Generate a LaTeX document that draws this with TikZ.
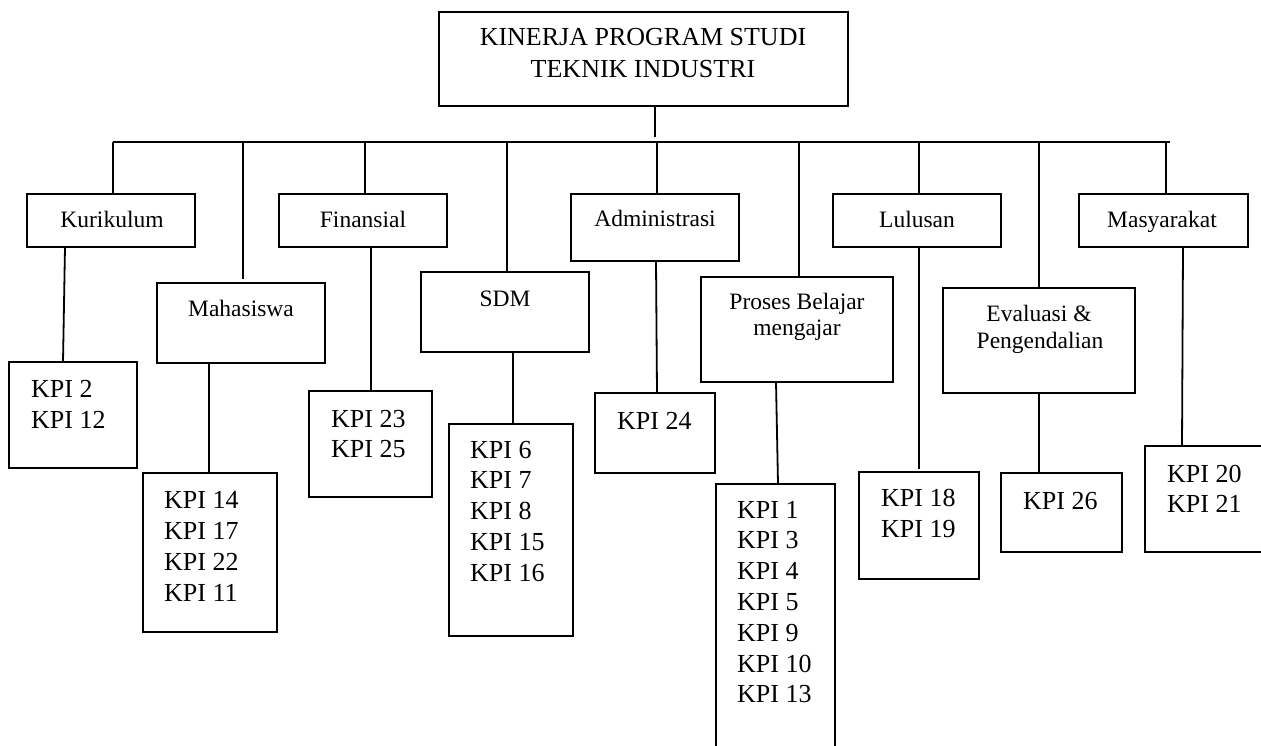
\documentclass[tikz,border=0pt]{standalone}
\usepackage{fontspec}
\setmainfont{Liberation Serif}
\tikzset{
  box/.style={draw, line width=1.8pt, inner sep=0pt, outer sep=0pt, anchor=north west},
  conn/.style={line width=1.8pt},
  lbl/.style={font=\fontsize{23.5}{26}\selectfont, anchor=base, inner sep=0pt},
  kpi/.style={font=\fontsize{26}{31}\selectfont, anchor=base west, inner sep=0pt},
  ttl/.style={font=\fontsize{26}{32}\selectfont, anchor=base, inner sep=0pt}
}
\newcommand\mkbox[5]{\node[box, minimum width={(#4-#2)*1pt}, minimum height={(#5-#3)*1pt}] (#1) at (#2,#3) {};}
\newcommand\kpilist[5]{\foreach \t [count=\i] in {#5} {\node[kpi] (#1-\i) at (#2,{#3+#4*(\i-1)}) {\t};}}
\begin{document}
\begin{tikzpicture}[x=1pt,y=-1pt]
\useasboundingbox (0,0) rectangle (1261,746);
\clip (0,0) rectangle (1261,746);
% boxes
\mkbox{top}{439}{12}{848}{106}
\mkbox{kur}{27}{194}{195}{247}
\mkbox{mhs}{157}{283}{325}{363}
\mkbox{fin}{279}{194}{447}{247}
\mkbox{sdm}{421}{272}{589}{352}
\mkbox{adm}{571}{194}{739}{261}
\mkbox{pbm}{701}{277}{893}{382}
\mkbox{lul}{833}{194}{1001}{247}
\mkbox{eva}{943}{288}{1135}{393}
\mkbox{mas}{1079}{194}{1248}{247}
\mkbox{kA}{9}{362}{137}{468}
\mkbox{kB}{143}{473}{277}{632}
\mkbox{kC}{309}{391}{432}{497}
\mkbox{kD}{449}{424}{573}{636}
\mkbox{kE}{595}{393}{715}{473}
\mkbox{kF}{716}{484}{835}{770}
\mkbox{kG}{859}{472}{979}{579}
\mkbox{kH}{1001}{473}{1122}{552}
\mkbox{kI}{1145}{446}{1290}{552}
% title
\node[ttl] (t1) at (643,46) {KINERJA PROGRAM STUDI};
\node[ttl] (t2) at (643,78) {TEKNIK INDUSTRI};
% level-1 labels
\node[lbl] (lkur) at (112,228) {Kurikulum};
\node[lbl] (lfin) at (363,228) {Finansial};
\node[lbl] (llul) at (917,228) {Lulusan};
\node[lbl] (lmas) at (1162,228) {Masyarakat};
\node[lbl] (ladm) at (655,227) {Administrasi};
\node[lbl] (lmhs) at (241,316) {Mahasiswa};
\node[lbl] (lsdm) at (505,306) {SDM};
\node[lbl] (lpbm1) at (797,309) {Proses Belajar};
\node[lbl] (lpbm2) at (797,335) {mengajar};
\node[lbl] (leva1) at (1039,321.5) {Evaluasi \&};
\node[lbl] (leva2) at (1040,348) {Pengendalian};
% KPI lists
\kpilist{ka}{31}{397}{31.5}{KPI 2,KPI 12}
\kpilist{kb}{164}{508}{31}{KPI 14,KPI 17,KPI 22,KPI 11}
\kpilist{kc}{331}{427}{30}{KPI 23,KPI 25}
\kpilist{kd}{470}{458}{30.8}{KPI 6,KPI 7,KPI 8,KPI 15,KPI 16}
\kpilist{ke}{617}{429}{31}{KPI 24}
\kpilist{kf}{737}{518}{30.8}{KPI 1,KPI 3,KPI 4,KPI 5,KPI 9,KPI 10,KPI 13}
\kpilist{kg}{881}{506}{31}{KPI 18,KPI 19}
\kpilist{kh}{1023}{509}{31}{KPI 26}
\kpilist{ki}{1167}{482}{30.5}{KPI 20,KPI 21}
% bar
\coordinate (b0) at (655,137);
\coordinate (bL) at (113,142);
\coordinate (bR) at (1170,142);
\draw[conn] (top.south -| b0) -- (b0);
\draw[conn] (bL) -- (bR);
% stems from bar
\draw[conn] (bL) -- (kur.north -| bL);
\draw[conn] (243,142) -- (243,279);
\draw[conn] (365,142) -- (fin.north -| 365,0);
\draw[conn] (507,142) -- (sdm.north -| 507,0);
\draw[conn] (657,142) -- (adm.north -| 657,0);
\draw[conn] (799,142) -- (pbm.north -| 799,0);
\draw[conn] (919,142) -- (lul.north -| 919,0);
\draw[conn] (1039,142) -- (eva.north -| 1039,0);
\draw[conn] (1166,142) -- (mas.north -| 1166,0);
% stems to KPI boxes
\draw[conn] (kur.south -| 65,0) -- (kA.north -| 63,0);
\draw[conn] (mhs.south -| 209,0) -- (kB.north -| 209,0);
\draw[conn] (fin.south -| 371,0) -- (kC.north -| 371,0);
\draw[conn] (sdm.south -| 513,0) -- (kD.north -| 513,0);
\draw[conn] (adm.south -| 656,0) -- (kE.north -| 657,0);
\draw[conn] (pbm.south -| 776,0) -- (kF.north -| 778,0);
\draw[conn] (lul.south -| 919,0) -- (919,469);
\draw[conn] (eva.south -| 1039,0) -- (kH.north -| 1039,0);
\draw[conn] (mas.south -| 1183,0) -- (kI.north -| 1182,0);
\end{tikzpicture}
\end{document}
